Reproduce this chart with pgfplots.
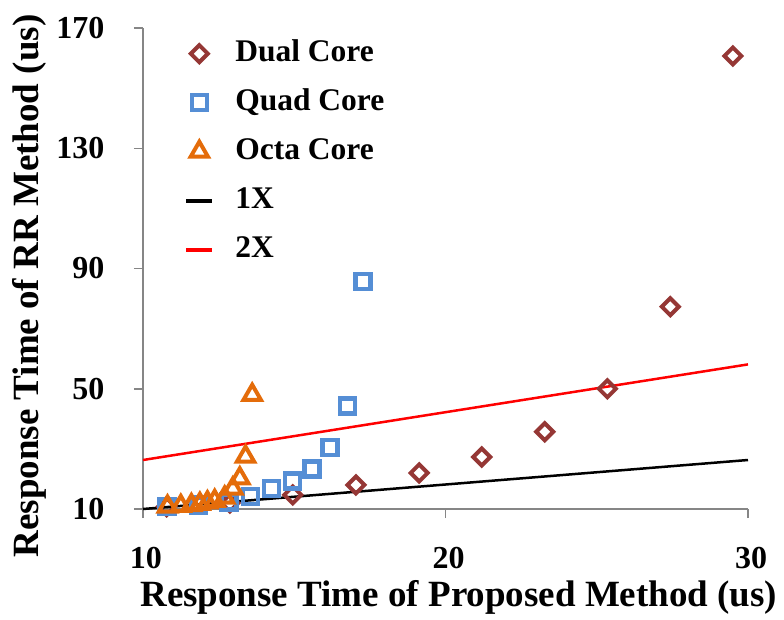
\documentclass[border=0pt]{standalone}
\usepackage{fontspec}
\setmainfont{Liberation Serif}
\usepackage{pgfplots}
\pgfplotsset{compat=1.18}
\definecolor{dualc}{HTML}{953735}
\definecolor{quadc}{HTML}{558ED5}
\definecolor{octac}{HTML}{E46C0A}
\definecolor{axisgray}{HTML}{868686}
\begin{document}
\begin{tikzpicture}
\useasboundingbox (-143pt,-110pt) rectangle (641pt,509pt);
\begin{axis}[
 at={(0pt,0pt)}, anchor=south west,
 scale only axis, width=605pt, height=481pt,
 xmin=10, xmax=30, ymin=10, ymax=170,
 xtick={10,20,30}, ytick={10,50,90,130,170},
 axis x line*=bottom, axis y line*=left,
 axis line style={axisgray, line width=1.5pt},
 tick style={axisgray, line width=1.5pt},
 tick align=outside, major tick length=9pt,
 /pgf/number format/assume math mode=true,
 tick label style={font=\fontsize{32}{38}\selectfont\bfseries},
 xticklabel style={yshift=-26pt, xshift=3pt},
 yticklabel style={xshift=-26pt},
 xlabel={Response Time of Proposed Method (us)},
 ylabel={Response Time of RR Method (us)},
 label style={font=\fontsize{37}{44}\selectfont\bfseries},
 xlabel style={at={(axis description cs:0.522,-0.183)}, anchor=center},
 ylabel style={at={(axis description cs:-0.187,0.4636)}, anchor=center},
 clip=false,
 legend image code/.code={\draw[mark repeat=2,mark phase=2,#1] plot coordinates {(0pt,0pt)(13pt,0pt)(26pt,0pt)};},
 legend style={draw=none, fill=none, at={(axis description cs:0.068,0.975)}, anchor=north west,
   inner sep=0pt, font=\fontsize{31.5}{37}\selectfont\bfseries, row sep=22pt,
   nodes={inner xsep=21pt, inner ysep=0pt, text height=21pt, text depth=6pt}},
 legend cell align=left,
]
\addplot[black, line width=2.5pt, forget plot] coordinates {(10,10) (30,26.3)};
\addplot[red, line width=2.5pt, forget plot] coordinates {(10,26.3) (30,58.1)};

\addplot[only marks, mark=square, mark size=6pt,
  mark options={rotate=45, draw=dualc, fill=white, line width=4pt}]
 coordinates {(10.78,10.8) (12.87,12.0) (14.95,14.7) (17.04,18.0) (19.13,22.0)
  (21.2,27.3) (23.28,35.7) (25.35,50.0) (27.43,77.3) (29.5,160.7)};
\addlegendentry{Dual Core}

\addplot[only marks, mark=square, mark size=7.5pt,
  mark options={draw=quadc, fill=white, line width=4.5pt}]
 coordinates {(10.8,10.8) (11.83,11.3) (12.85,12.4) (13.56,14.2) (14.24,16.9)
  (14.95,19.3) (15.59,23.3) (16.19,30.4) (16.76,44.3) (17.28,85.7)};
\addlegendentry{Quad Core}

\addplot[only marks, mark=triangle, mark size=10pt,
  mark options={draw=octac, fill=white, line width=4pt}]
 coordinates {(10.81,10.8) (11.25,11.0) (11.6,11.3) (11.88,11.7) (12.13,12.2)
  (12.37,12.7) (12.7,13.8) (12.97,16.8) (13.2,20.2) (13.39,27.4) (13.61,48.0)};
\addlegendentry{Octa Core}

\addlegendimage{black, line width=4pt}
\addlegendentry{1X}
\addlegendimage{red, line width=4pt}
\addlegendentry{2X}
\end{axis}
\end{tikzpicture}
\end{document}
